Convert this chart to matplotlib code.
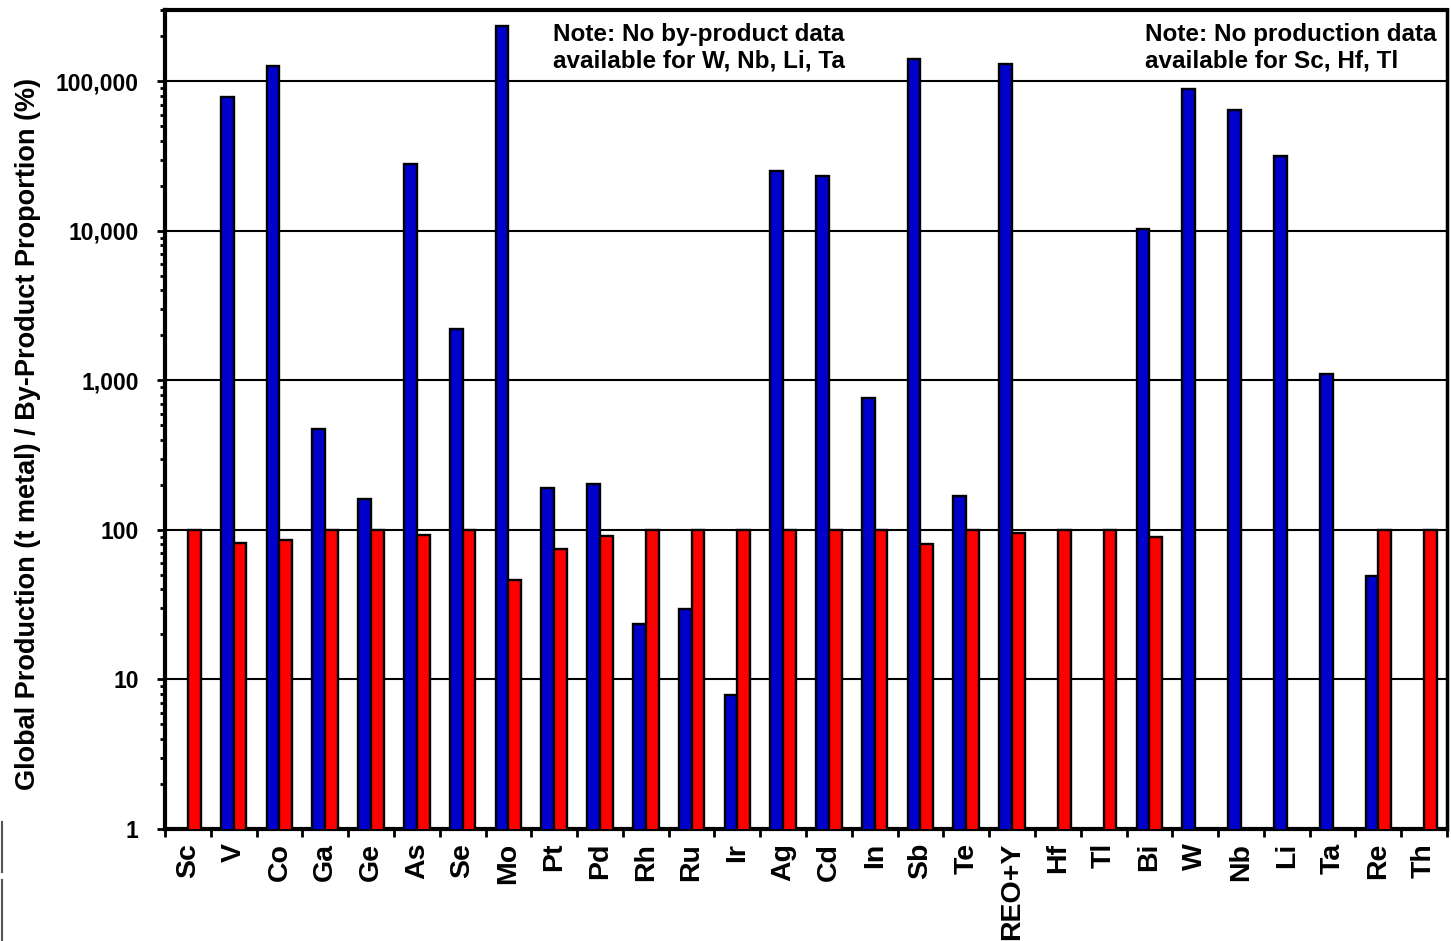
import matplotlib
matplotlib.use("Agg")
import matplotlib.pyplot as plt
from matplotlib.ticker import FixedLocator, LogLocator, NullFormatter, FuncFormatter
from matplotlib import font_manager
from matplotlib.lines import Line2D
import numpy as np

# Element / commodity categories
elements = ["Sc", "V", "Co", "Ga", "Ge", "As", "Se", "Mo", "Pt", "Pd", "Rh", "Ru", "Ir",
            "Ag", "Cd", "In", "Sb", "Te", "REO+Y", "Hf", "Tl", "Bi", "W", "Nb", "Li",
            "Ta", "Re", "Th"]

# Global production, t metal (None = no data)
production = [None, 78000, 126000, 470, 160, 27900, 2200, 233000, 190, 202, 23.5, 29.5, 7.9,
              25000, 23200, 760, 142000, 168, 130000, None, None, 10300, 88500, 64000, 31500,
              1100, 49, None]

# By-product proportion, % (None = no data)
byproduct = [100, 82, 85, 100, 100, 92, 100, 46, 75, 91, 100, 100, 100,
             100, 100, 100, 80, 100, 95, 100, 100, 90, None, None, None,
             None, 100, 100]

ytick_values = [1, 10, 100, 1000, 10000, 100000]

note_left = "Note: No by-product data\navailable for W, Nb, Li, Ta"
note_right = "Note: No production data\navailable for Sc, Hf, Tl"

plt.rcParams["font.family"] = ["Liberation Sans", "DejaVu Sans"]
plt.rcParams["font.weight"] = "bold"

installed = {f.name for f in font_manager.fontManager.ttflist}
label_family = "Liberation Sans Narrow" if "Liberation Sans Narrow" in installed else "Liberation Sans"

fig = plt.figure(figsize=(14.51, 9.41), dpi=100)
ax = fig.add_axes([165 / 1451, 1 - 829 / 941, (1447 - 165) / 1451, (829 - 10) / 941])

x = np.arange(len(elements))
bw = 0.28
prod_x = [xi for xi, v in zip(x, production) if v is not None]
prod_v = [v for v in production if v is not None]
bp_x = [xi for xi, v in zip(x, byproduct) if v is not None]
bp_v = [v for v in byproduct if v is not None]

# production bars sit left of the category centre, by-product bars right of it
ax.bar(np.array(prod_x) - bw, prod_v, width=bw, align="edge", color="#0000CC",
       edgecolor="black", linewidth=1.7, zorder=3)
ax.bar(np.array(bp_x), bp_v, width=bw, align="edge", color="#FF0000",
       edgecolor="black", linewidth=1.7, zorder=3)

ax.set_yscale("log")
ax.set_ylim(1, 3.0e5)
ax.set_xlim(-0.5, len(elements) - 0.5)

for yv in ytick_values[1:]:
    ax.axhline(yv, color="black", linewidth=1.5, zorder=1)

ax.yaxis.set_major_locator(FixedLocator(ytick_values))
ax.yaxis.set_minor_locator(LogLocator(base=10, subs=np.arange(2, 10)))
ax.yaxis.set_minor_formatter(NullFormatter())
ax.yaxis.set_major_formatter(FuncFormatter(lambda v, p: f"{int(round(v)):,}"))
ax.tick_params(axis="y", which="major", direction="out", length=6, width=2, pad=13,
               labelsize=16.5)
ax.tick_params(axis="y", which="minor", direction="out", length=3.5, width=2)
for lab in ax.get_yticklabels():
    lab.set_fontweight("bold")

ax.set_xticks(x)
ax.set_xticklabels(elements, rotation=90, fontsize=20.5, fontweight="bold")
ax.set_xticks(np.arange(-0.5, len(elements) + 0.5, 1), minor=True)
ax.tick_params(axis="x", which="major", length=0, pad=10)
ax.tick_params(axis="x", which="minor", direction="out", length=6, width=2)

for side, lw in [("top", 3), ("left", 3), ("bottom", 3), ("right", 2.5)]:
    ax.spines[side].set_linewidth(lw)
    ax.spines[side].set_color("black")

fig.text(28 / 1451, 1 - 434 / 941,
         "Global Production (t metal) / By-Product Proportion (%)",
         rotation=90, ha="center", va="center", fontsize=19.5, fontweight="bold",
         family=[label_family, "DejaVu Sans"])

ax.text((553 - 165) / 1282, 0.984, note_left, transform=ax.transAxes, ha="left",
        va="top", fontsize=17.5, fontweight="bold", linespacing=1.2, zorder=5)
ax.text((1145 - 165) / 1282, 0.984, note_right, transform=ax.transAxes, ha="left",
        va="top", fontsize=17.5, fontweight="bold", linespacing=1.2, zorder=5)

# thin page-edge marks at the lower left
fig.add_artist(Line2D([1.5 / 1451, 1.5 / 1451], [1 - 822 / 941, 1 - 872 / 941],
                      color="#555555", linewidth=1.5, transform=fig.transFigure))
fig.add_artist(Line2D([1.5 / 1451, 1.5 / 1451], [1 - 880 / 941, 0],
                      color="#555555", linewidth=1.5, transform=fig.transFigure))

fig.savefig("out.png", dpi=100)
